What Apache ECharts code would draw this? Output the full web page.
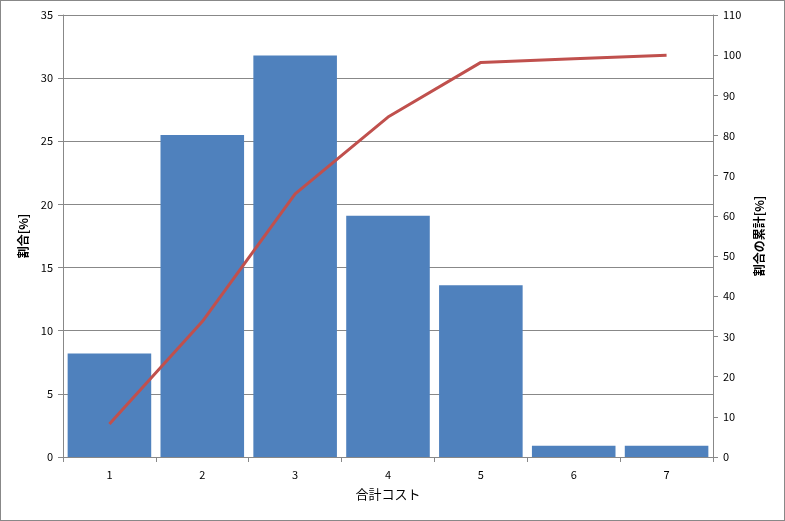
<!DOCTYPE html>
<html><head><meta charset="utf-8">
<script src="https://cdn.jsdelivr.net/npm/echarts@6/dist/echarts.min.js"></script>
<style>html,body{margin:0;padding:0;background:#fff}#c{width:785px;height:521px;box-sizing:border-box;border:1px solid #888}</style>
</head><body><div id="c"></div>
<script>
const categories = ['1','2','3','4','5','6','7'];
const shareValues = [8.2, 25.5, 31.8, 19.1, 13.6, 0.9, 0.9];
const cumulativeValues = [8.2, 33.7, 65.5, 84.6, 98.2, 99.1, 100];
const xAxisName = '合計コスト';
const leftAxisName = '割合[%]';
const rightAxisName = '割合の累計[%]';

const chart = echarts.init(document.getElementById('c'));
const font = 'Meiryo, "Noto Sans CJK JP", sans-serif';
chart.setOption({
  animation: false,
  textStyle: {fontFamily: font},
  grid: {left: 62, right: 71, top: 14, bottom: 63},
  xAxis: {
    type: 'category', data: categories,
    name: xAxisName, nameLocation: 'middle', nameGap: 31,
    nameTextStyle: {color: '#000', fontSize: 13, fontFamily: font},
    axisLine: {lineStyle: {color: '#888'}},
    axisTick: {show: true, alignWithLabel: false, length: 5, lineStyle: {color: '#888'}},
    axisLabel: {color: '#000', fontSize: 11, margin: 12}
  },
  yAxis: [{
    type: 'value', min: 0, max: 35, interval: 5,
    name: leftAxisName, nameLocation: 'middle', nameGap: 32, nameRotate: 90,
    nameTextStyle: {color: '#000', fontSize: 12, fontWeight: 'bold', fontFamily: font},
    axisLine: {show: true, lineStyle: {color: '#888'}},
    axisTick: {show: true, length: 5, lineStyle: {color: '#888'}},
    axisLabel: {color: '#000', fontSize: 11, margin: 10},
    splitLine: {show: true, lineStyle: {color: '#888', width: 1}}
  }, {
    type: 'value', min: 0, max: 110, interval: 10,
    name: rightAxisName, nameLocation: 'middle', nameGap: 40, nameRotate: 90,
    nameTextStyle: {color: '#000', fontSize: 12, fontWeight: 'bold', fontFamily: font},
    axisLine: {show: true, lineStyle: {color: '#888'}},
    axisTick: {show: true, length: 5, lineStyle: {color: '#888'}},
    axisLabel: {color: '#000', fontSize: 11, margin: 10},
    splitLine: {show: false}
  }],
  series: [{
    type: 'bar', data: shareValues, yAxisIndex: 0,
    barCategoryGap: '10%',
    itemStyle: {color: '#4F81BD'}
  }, {
    type: 'line', data: cumulativeValues, yAxisIndex: 1,
    symbol: 'none',
    lineStyle: {color: '#C0504D', width: 3}
  }]
});
</script></body></html>
